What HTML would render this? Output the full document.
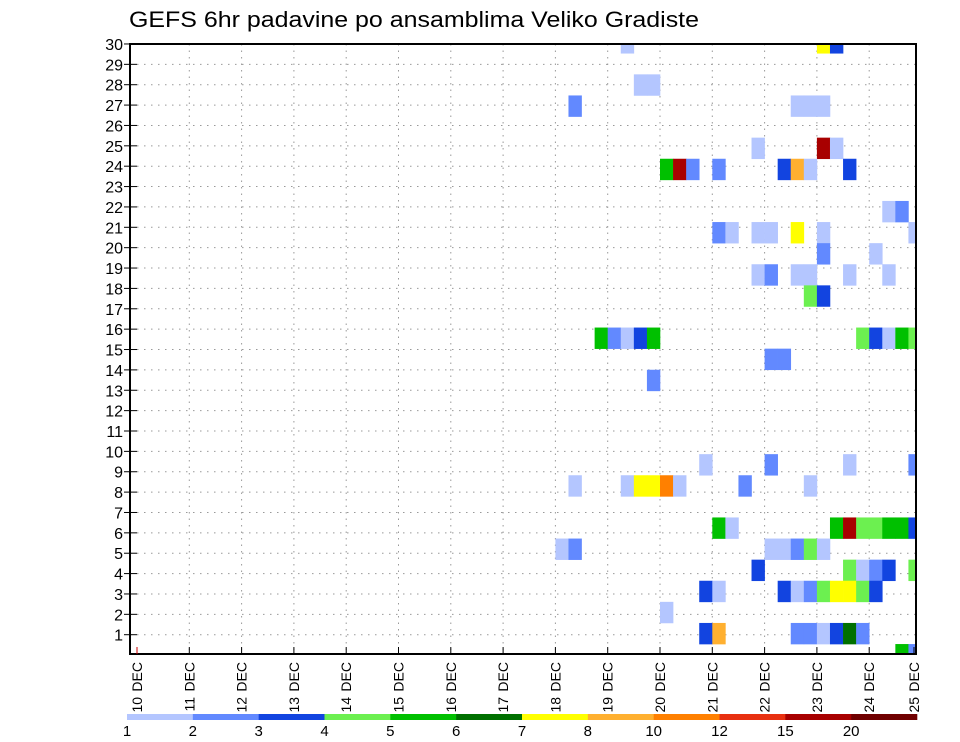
<!DOCTYPE html>
<html><head><meta charset="utf-8"><style>
html,body{margin:0;padding:0;background:#fff;}
svg{display:block;font-family:"Liberation Sans",sans-serif;}
</style></head><body>
<svg id="chart" width="960" height="742" viewBox="0 0 960 742" xmlns="http://www.w3.org/2000/svg">
<text x="129" y="27" font-size="22" fill="#000" textLength="570" lengthAdjust="spacingAndGlyphs">GEFS 6hr padavine po ansamblima Veliko Gradiste</text>
<defs><clipPath id="plotclip"><rect x="130" y="44" width="786" height="610"/></clipPath></defs>
<g id="grid"></g>
<g id="cells" clip-path="url(#plotclip)"></g>
<rect x="130" y="44" width="786" height="610" fill="none" stroke="#000" stroke-width="2"/>
<g id="axes"></g>
<g id="legend"></g>
</svg>
<script>
// ---- data ----
const dayLabels = ["10 DEC","11 DEC","12 DEC","13 DEC","14 DEC","15 DEC","16 DEC","17 DEC","18 DEC","19 DEC","20 DEC","21 DEC","22 DEC","23 DEC","24 DEC","25 DEC"];
const memberLabels = [1,2,3,4,5,6,7,8,9,10,11,12,13,14,15,16,17,18,19,20,21,22,23,24,25,26,27,28,29,30];
const legendLabels = ["1","2","3","4","5","6","7","8","10","12","15","20"];
const binColors = ["#b4c6ff","#6289ff","#1244e0","#6cf050","#00c000","#007000","#ffff00","#ffb030","#ff8000","#e83010","#a80000","#700000"];
// cells: [ensemble row, 6-hour step index from 10 DEC 00z, colour bin (1..12)]
const cellRows = [28,28,28, 26,26, 25,25,25,25, 23,23,23,
 22,22,22,22,22,22,22,22, 20,20, 19,19,19,19,19,19,19, 18,18,
 17,17,17,17,17,17, 16,16, 14,14,14,14,14,14,14,14,14,14,
 13,13, 12, 8,8,8,8, 7,7,7,7,7,7,7,7, 5,5,5,5,5,5,5,5,5,
 4,4,4,4,4,4,4, 3,3,3,3,3,3, 2,2,2,2,2,2,2,2,2,2, 1,
 0,0,0,0,0,0,0,0, -1,-1];
const cellSteps = [37,52,53, 38,39, 33,50,51,52, 47,52,53,
 40,41,42,44,49,50,51,54, 57,58, 44,45,47,48,50,52,59, 52,56,
 47,48,50,51,54,57, 51,52, 35,36,37,38,39,55,56,57,58,59,
 48,49, 39, 43,48,54,59, 33,37,38,39,40,41,46,51, 44,45,53,54,55,56,57,58,59,
 32,33,48,49,50,51,52, 47,54,55,56,57,59, 43,44,49,50,51,52,53,54,55,56, 40,
 43,44,50,51,52,53,54,55, 58,59];
const cellBins = [1,7,3, 1,1, 2,1,1,1, 1,11,1,
 5,11,2,2,3,8,1,3, 1,2, 2,1,1,1,7,1,1, 2,1,
 1,2,1,1,1,1, 4,3, 5,2,1,3,5,4,3,1,5,4,
 2,2, 2, 1,2,1,2, 1,1,7,7,9,1,2,1, 5,1,5,11,4,4,5,5,3,
 1,2,1,1,2,4,1, 3,4,1,2,3,4, 3,1,3,1,2,4,7,7,4,3, 1,
 3,8,2,2,1,3,6,2, 5,2];

// ---- scales ----
const NS="http://www.w3.org/2000/svg";
const X0=137, DAYW=52.3, STEPW=DAYW/4;
const xDay = d => X0 + d*DAYW;
const xStep = s => X0 + s*STEPW;
const yMember = m => 634.7 - (m-1)*20.37;
const CELLH = 21.1;
const yCellCenter = k => 633.5 - k*CELLH;
function mk(tag, attrs, parent){const e=document.createElementNS(NS,tag);for(const k in attrs)e.setAttribute(k,attrs[k]);parent.appendChild(e);return e;}

const grid=document.getElementById('grid'), cells=document.getElementById('cells'), axes=document.getElementById('axes'), legend=document.getElementById('legend');

dayLabels.forEach((lab,d)=>{
  const x=Math.min(xDay(d),914);
  if(d>0 && xDay(d)<916){
    const l=mk('line',{x1:x,y1:44,x2:x,y2:654,stroke:'#999','stroke-width':1,'stroke-dasharray':'1.5 5'},grid);
    
    
  }
  const t=mk('line',{x1:x,y1:647,x2:x,y2:654,stroke:d===0?'#c00':'#000','stroke-width':1},axes);
  
  
  const tx=mk('text',{x:0,y:0,'font-size':14,fill:'#000','text-anchor':'end','word-spacing':1.5,transform:`translate(${x+5},${662}) rotate(-90)`},axes);
  tx.textContent=lab;
  
  
});
memberLabels.forEach(m=>{
  const y=yMember(m);
  if(m<30){
    const l=mk('line',{x1:130,y1:y,x2:916,y2:y,stroke:'#999','stroke-width':1,'stroke-dasharray':'1.5 5.5'},grid);
    
    
  }
  const t=mk('line',{x1:124,y1:y,x2:137,y2:y,stroke:'#000','stroke-width':1},axes);
  
  
  const tx=mk('text',{x:123,y:y+6,'font-size':16,fill:'#000','text-anchor':'end'},axes);
  tx.textContent=m;
  
  
});

cellRows.forEach((k,i)=>{
  const r=mk('rect',{x:xStep(cellSteps[i]),y:yCellCenter(k)-CELLH/2,width:STEPW+0.3,height:CELLH+0.3,fill:binColors[cellBins[i]-1]},cells);
  
  
});

const LX=127, LW=790/12;
binColors.forEach((c,j)=>{
  const r=mk('rect',{x:LX+j*LW,y:714,width:LW+0.3,height:6,fill:c},legend);
  
  
});
legendLabels.forEach((lab,j)=>{
  const t=mk('text',{x:LX+j*LW,y:736,'font-size':15,fill:'#000','text-anchor':'middle'},legend);
  t.textContent=lab;
  
  
});
</script>
</body></html>
